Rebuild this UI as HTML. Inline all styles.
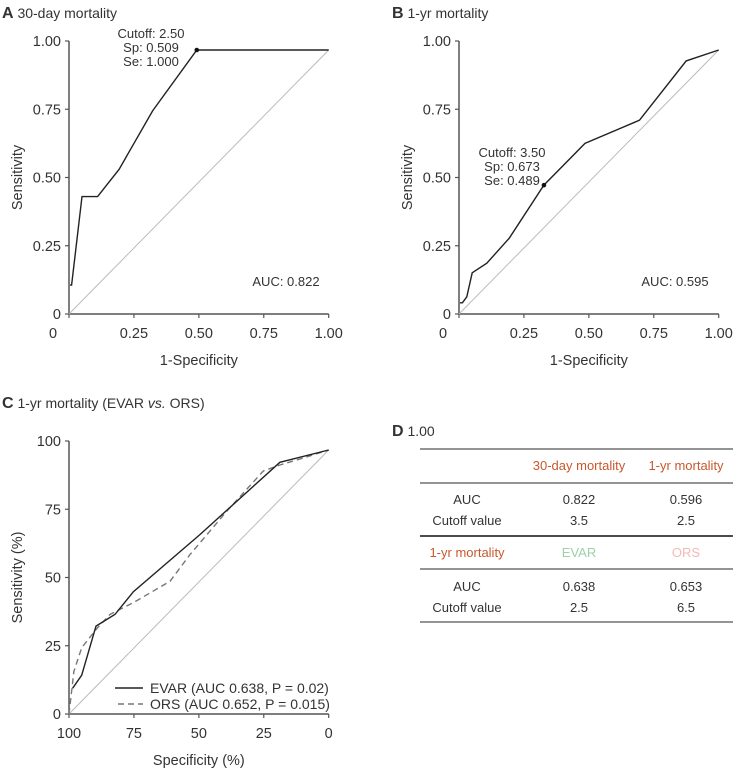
<!DOCTYPE html>
<html><head><meta charset="utf-8"><style>
body{margin:0;background:#fff;}
svg{display:block;font-family:"Liberation Sans",sans-serif;}
text{fill:#333;}
</style></head><body>
<svg id="s" width="733" height="768" viewBox="0 0 733 768" xmlns="http://www.w3.org/2000/svg">
<g>
<text x="2" y="18" font-size="14"><tspan font-weight="bold" font-size="16">A</tspan> 30-day mortality</text>
<text x="392" y="18" font-size="14"><tspan font-weight="bold" font-size="16">B</tspan> 1-yr mortality</text>
<text x="2" y="408" font-size="14"><tspan font-weight="bold" font-size="16">C</tspan> 1-yr mortality (EVAR <tspan font-style="italic">vs.</tspan> ORS)</text>
<text x="392" y="436" font-size="14"><tspan font-weight="bold" font-size="16">D</tspan> 1.00</text>
</g>
<g id="gA"></g>
<g id="gB"></g>
<g id="gC"></g>
<g font-size="13" text-anchor="middle">
<line x1="420" y1="449" x2="733" y2="449" stroke="#555" stroke-width="1.2"/>
<line x1="420" y1="483" x2="733" y2="483" stroke="#555" stroke-width="1.2"/>
<line x1="420" y1="536" x2="733" y2="536" stroke="#333" stroke-width="1.8"/>
<line x1="420" y1="569" x2="733" y2="569" stroke="#555" stroke-width="1.2"/>
<line x1="420" y1="622" x2="733" y2="622" stroke="#555" stroke-width="1.2"/>
<text x="579" y="470" style="fill:#c8582e">30-day mortality</text>
<text x="686" y="470" style="fill:#c8582e">1-yr mortality</text>
<text x="467" y="504">AUC</text>
<text x="579" y="504">0.822</text>
<text x="686" y="504">0.596</text>
<text x="467" y="525">Cutoff value</text>
<text x="579" y="525">3.5</text>
<text x="686" y="525">2.5</text>
<text x="467" y="557" style="fill:#c8582e">1-yr mortality</text>
<text x="579" y="557" style="fill:#9fd0a8">EVAR</text>
<text x="686" y="557" style="fill:#f4b8b8">ORS</text>
<text x="467" y="591">AUC</text>
<text x="579" y="591">0.638</text>
<text x="686" y="591">0.653</text>
<text x="467" y="612">Cutoff value</text>
<text x="579" y="612">2.5</text>
<text x="686" y="612">6.5</text>
</g>
</svg>
<script>
const aX=[0.004,0.01,0.05,0.11,0.193,0.322,0.492,1];
const aY=[0.106,0.106,0.43,0.43,0.53,0.744,0.967,0.967];
const bX=[0.004,0.013,0.03,0.051,0.107,0.193,0.327,0.485,0.695,0.875,1];
const bY=[0.041,0.041,0.063,0.151,0.186,0.277,0.472,0.625,0.71,0.927,0.967];
const evarSpec=[98.6,95.1,89.6,82.3,75.2,49.6,18.8,0];
const evarSens=[9.4,14.2,32.2,36.5,44.8,65.7,92.2,96.7];
const orsSpec=[100,98.1,95.1,89.3,84.2,75.2,61.1,53.4,39.3,25.2,18.8,11,0];
const orsSens=[0,15.6,24.3,31.3,36.5,40.8,48.6,58.4,74.2,89,91.2,93.4,96.7];
const fracTicks=["0","0.25","0.50","0.75","1.00"];
const fracVals=[0,0.25,0.5,0.75,1];
const pctTicks=["0","25","50","75","100"];
const pctVals=[0,25,50,75,100];
const NS="http://www.w3.org/2000/svg";
function mk(p,tag,at){const e=document.createElementNS(NS,tag);for(const k in at)e.setAttribute(k,at[k]);p.appendChild(e);return e;}
function panel(g,ox,oy,xmin,xmax,ymax,xt,xv,yt,yv,xlab,ylab){
 const x0=ox+69,x1=ox+328.7,y0=oy+314,y1=oy+41;
 const sx=v=>x0+(v-xmin)/(xmax-xmin)*(x1-x0);
 const sy=v=>y0-v/ymax*(y0-y1);
 const ax=mk(g,'path',{d:`M${x0},${y1}V${y0}H${x1}`,fill:'none',stroke:'#555','stroke-width':1.5});
 
 
 yv.forEach((v,i)=>{mk(g,'line',{x1:x0-4,x2:x0,y1:sy(v),y2:sy(v),stroke:'#555','stroke-width':1.2});
  const t=mk(g,'text',{x:x0-8,y:sy(v)+5,'font-size':14.5,'text-anchor':'end'});t.textContent=yt[i];
  
  });
 xv.forEach((v,i)=>{mk(g,'line',{x1:sx(v),x2:sx(v),y1:y0,y2:y0+4,stroke:'#555','stroke-width':1.2});
  const off=(xt[i]==="0"&&xmin===0)?-16:0;
  const t=mk(g,'text',{x:sx(v)+off,y:y0+24,'font-size':14.5,'text-anchor':'middle'});t.textContent=xt[i];
  
  });
 const xl=mk(g,'text',{x:(x0+x1)/2,y:y0+51,'font-size':14.5,'text-anchor':'middle'});xl.textContent=xlab;
 
 
 const yl=mk(g,'text',{x:0,y:0,'font-size':14.5,'text-anchor':'middle',transform:`translate(${ox+22},${(y0+y1)/2}) rotate(-90)`});yl.textContent=ylab;
 
 
 return {sx,sy};
}
function line(g,xs,ys,sx,sy,dash,name){
 const p=mk(g,'path',{d:xs.map((v,i)=>(i?'L':'M')+sx(v).toFixed(1)+','+sy(ys[i]).toFixed(1)).join(''),fill:'none',stroke:dash?'#777':'#222','stroke-width':1.4});
 if(dash)p.setAttribute('stroke-dasharray','6,4');
 
 
}
function txt(g,x,y,s,name,anchor){const t=mk(g,'text',{x:x,y:y,'font-size':13,'text-anchor':anchor||'middle'});t.textContent=s;
 
 }
// A
let gA=document.getElementById('gA');
let A=panel(gA,0,0,0,1,1,fracTicks,fracVals,fracTicks,fracVals,'1-Specificity','Sensitivity');
line(gA,[0,1],[0,aY[aY.length-1]],A.sx,A.sy,false,'reference-diagonal');gA.lastChild.setAttribute('stroke','#bbb');gA.lastChild.setAttribute('stroke-width','1');
line(gA,aX,aY,A.sx,A.sy,false,'roc-curve-30day');
let c=mk(gA,'circle',{cx:A.sx(aX[6]),cy:A.sy(aY[6]),r:2.3,fill:'#111'});


txt(gA,151,38,'Cutoff: 2.50','cutoff-label');txt(gA,151,52,'Sp: 0.509','sp-label');txt(gA,151,66,'Se: 1.000','se-label');
txt(gA,286,286,'AUC: 0.822','auc-label');
// B
let gB=document.getElementById('gB');
let B=panel(gB,390,0,0,1,1,fracTicks,fracVals,fracTicks,fracVals,'1-Specificity','Sensitivity');
line(gB,[0,1],[0,bY[bY.length-1]],B.sx,B.sy,false,'reference-diagonal');gB.lastChild.setAttribute('stroke','#bbb');gB.lastChild.setAttribute('stroke-width','1');
line(gB,bX,bY,B.sx,B.sy,false,'roc-curve-1yr');
c=mk(gB,'circle',{cx:B.sx(bX[6]),cy:B.sy(bY[6]),r:2.3,fill:'#111'});


txt(gB,512,157,'Cutoff: 3.50','cutoff-label');txt(gB,512,171,'Sp: 0.673','sp-label');txt(gB,512,185,'Se: 0.489','se-label');
txt(gB,675,286,'AUC: 0.595','auc-label');
// C
let gC=document.getElementById('gC');
let C=panel(gC,0,400,100,0,100,["100","75","50","25","0"],[100,75,50,25,0],pctTicks,pctVals,'Specificity (%)','Sensitivity (%)');
line(gC,[100,0],[0,96.7],C.sx,C.sy,false,'reference-diagonal');gC.lastChild.setAttribute('stroke','#bbb');gC.lastChild.setAttribute('stroke-width','1');
line(gC,orsSpec,orsSens,C.sx,C.sy,true,'roc-curve-ors');
line(gC,evarSpec,evarSens,C.sx,C.sy,false,'roc-curve-evar');
// legend
let lg=mk(gC,'g',{'font-size':14});


mk(lg,'line',{x1:115,x2:143,y1:688,y2:688,stroke:'#222','stroke-width':1.4});
mk(lg,'line',{x1:118,x2:143,y1:704,y2:704,stroke:'#777','stroke-width':1.4,'stroke-dasharray':'6,4'});
let t1=mk(lg,'text',{x:150,y:693});t1.textContent='EVAR (AUC 0.638, P = 0.02)';


let t2=mk(lg,'text',{x:150,y:709});t2.textContent='ORS (AUC 0.652, P = 0.015)';


</script>
</body></html>
